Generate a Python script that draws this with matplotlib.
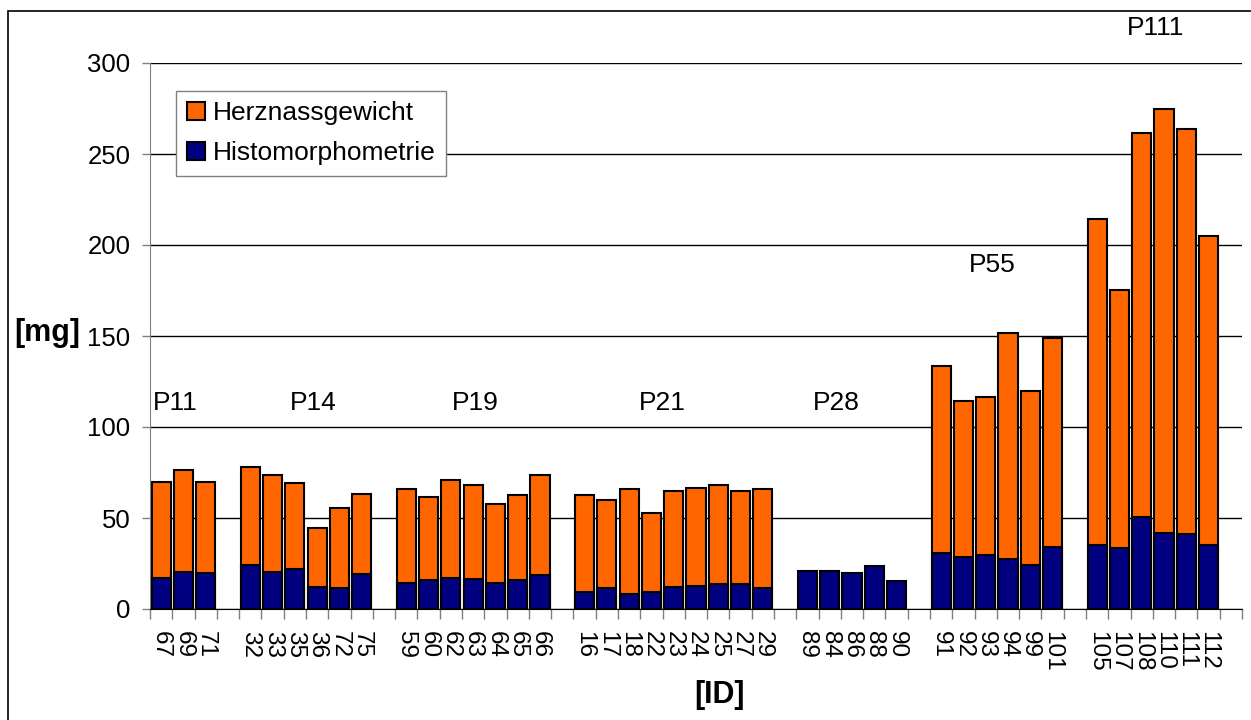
import matplotlib.pyplot as plt
from matplotlib.patches import Rectangle

plt.rcParams['font.family'] = ['Liberation Sans', 'DejaVu Sans']

# IDs per group, "" = empty slot between groups
ids = ["67", "69", "71", "",
       "32", "33", "35", "36", "72", "75", "",
       "59", "60", "62", "63", "64", "65", "66", "",
       "16", "17", "18", "22", "23", "24", "25", "27", "29", "",
       "89", "84", "86", "88", "90", "",
       "91", "92", "93", "94", "99", "101", "",
       "105", "107", "108", "110", "111", "112", ""]

herz = [69.7, 76.3, 69.7, 0,
        78.2, 73.9, 69.3, 44.5, 55.5, 63.1, 0,
        65.8, 61.8, 70.8, 68.2, 57.7, 62.7, 73.9, 0,
        62.7, 60.1, 66.0, 52.8, 64.7, 66.7, 68.2, 64.7, 66.0, 0,
        0, 0, 0, 0, 0, 0,
        133.6, 114.3, 116.7, 151.7, 120.0, 149.1, 0,
        214.2, 175.3, 261.5, 274.7, 263.9, 205.1, 0]

histo = [16.9, 20.5, 19.6, 0,
         24.0, 20.5, 21.8, 12.3, 11.3, 19.4, 0,
         14.3, 15.9, 16.9, 16.5, 14.5, 15.9, 18.9, 0,
         9.3, 11.7, 8.4, 9.3, 12.0, 12.4, 13.7, 13.7, 11.7, 0,
         20.7, 20.7, 20.0, 23.5, 15.4, 0,
         30.7, 28.8, 29.7, 27.3, 24.2, 34.1, 0,
         34.9, 33.6, 50.3, 41.9, 41.4, 34.9, 0]

groups = ["P11", "P14", "P19", "P21", "P28", "P55", "P111"]
group_x = [0.63, 6.84, 14.1, 22.5, 30.3, 37.3, 44.6]
group_y = [113, 113, 113, 113, 113, 189, 319]

orange = "#FF6600"
navy = "#000080"

fig = plt.figure(figsize=(12.51, 7.2), dpi=100)
ax = fig.add_axes([150 / 1251, 1 - 609 / 720, 1092 / 1251, 546 / 720])

x = list(range(len(ids)))
h_x = [i for i in x if herz[i] > 0]
b_x = [i for i in x if histo[i] > 0]
ax.bar(h_x, [herz[i] for i in h_x], width=0.86, color=orange,
       edgecolor="black", linewidth=1.5, label="Herznassgewicht", zorder=2)
ax.bar(b_x, [histo[i] for i in b_x], width=0.86, color=navy,
       edgecolor="black", linewidth=1.5, label="Histomorphometrie", zorder=3)

ax.set_xlim(-0.5, len(ids) - 0.5)
ax.set_ylim(0, 300)
ax.set_yticks(range(0, 301, 50))
ax.tick_params(axis="y", labelsize=18.5, length=6, width=1, color="#808080", pad=8)
ax.yaxis.grid(True, color="black", linewidth=1)
ax.set_axisbelow(True)

# ticks between categories, labels at centres
ax.set_xticks([i - 0.5 for i in range(len(ids) + 1)])
ax.set_xticklabels([])
ax.set_xticks(x, minor=True)
ax.set_xticklabels(ids, minor=True, rotation=270, fontsize=17.5)
ax.tick_params(axis="x", which="major", length=7, width=1, color="#808080")
ax.tick_params(axis="x", which="minor", length=0, pad=16)

for s in ["top", "right"]:
    ax.spines[s].set_visible(False)
ax.spines["left"].set_color("#808080")
ax.spines["bottom"].set_color("black")

for name, gx, gy in zip(groups, group_x, group_y):
    ax.text(gx, gy, name, ha="center", va="center", fontsize=19, clip_on=False)

leg = ax.legend(loc="upper left", bbox_to_anchor=(0.024, 0.949), borderaxespad=0,
                fontsize=19, frameon=True, fancybox=False, edgecolor="#808080",
                handlelength=0.7, handleheight=0.7, handletextpad=0.3,
                labelspacing=0.6, borderpad=0.4, framealpha=1)
leg.get_frame().set_linewidth(1)

fig.text(47 / 1251, 1 - 333 / 720, "[mg]", ha="center", va="center",
         fontsize=22, fontweight="bold")
fig.text(719 / 1251, 1 - 695 / 720, "[ID]", ha="center", va="center",
         fontsize=22, fontweight="bold")

fig.patches.append(Rectangle((8 / 1251, -0.1), 1.2, 1 - 11 / 720 + 0.1,
                             transform=fig.transFigure, fill=False,
                             edgecolor="black", linewidth=1.2))

fig.savefig("out.png", dpi=100)
